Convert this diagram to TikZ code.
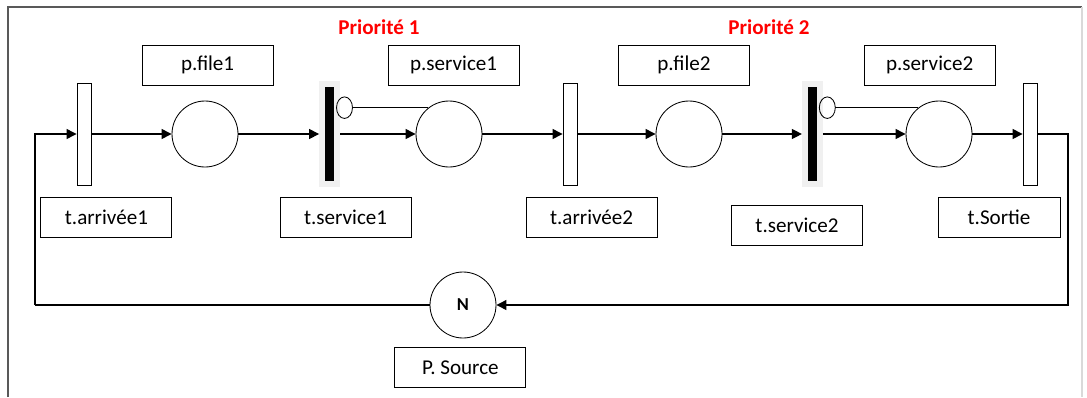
\documentclass[tikz,border=0pt]{standalone}
\usepackage{fontspec}
\setmainfont{Carlito}
\usetikzlibrary{positioning, arrows.meta}

\begin{document}
\begin{tikzpicture}[
    place/.style={draw, circle, minimum size=1.65cm, inner sep=0pt,
                  line width=0.6pt},
    trans/.style={draw, rectangle, minimum width=0.35cm,
                  minimum height=2.55cm, inner sep=0pt, line width=0.6pt},
    prio/.style={fill=black, minimum width=0.225cm, minimum height=2.35cm,
                 inner sep=0pt, outer sep=0.15cm,
                 preaction={draw=black!6, line width=0.3cm}},
    lbl/.style={draw, minimum width=3.275cm, minimum height=1cm,
                inner sep=0pt, line width=0.6pt,
                font=\fontsize{15}{18}\selectfont},
    priolbl/.style={font=\fontsize{15}{18}\selectfont\bfseries, text=red},
    flow/.style={-{Triangle[length=0.25cm,width=0.25cm]}, line width=0.8pt},
    inhib/.style={-{Circle[open, length=0.42cm, width=0.56cm]},
                  line width=0.6pt, shorten >=-0.1cm},
]
\useasboundingbox (0,0) rectangle (27.175,-9.925);

% --- Frame ---
\draw[black!65, line width=0.8pt] (0.2,-9.925) -- (0.2,-0.175) -- (27.05,-0.175);
\draw[black!15, line width=0.8pt] (27.05,-0.175) -- (27.05,-9.925);

% --- Priorities ---
\node[priolbl] (prio1) at (9.475,-0.675) {Priorité 1};
\node[priolbl] (prio2) at (19.225,-0.675) {Priorité 2};

% --- Places and transitions ---
\node[trans] (ta1) at (2.10,-3.35) {};
\node[place] (pf1) at (5.125,-3.35) {};
\node[prio]  (ts1) at (8.24,-3.35) {};
\node[place] (ps1) at (11.225,-3.35) {};
\node[trans] (ta2) at (14.25,-3.35) {};
\node[place] (pf2) at (17.225,-3.35) {};
\node[prio]  (ts2) at (20.31,-3.35) {};
\node[place] (ps2) at (23.475,-3.35) {};
\node[trans] (tso) at (25.75,-3.35) {};
\node[place, font=\bfseries\fontsize{13}{15}\selectfont] (src)
    at (11.575,-7.625) {N};

% --- Labels ---
\node[lbl] (lpf1) at (5.19,-1.625) {p.file1};
\node[lbl] (lps1) at (11.34,-1.625) {p.service1};
\node[lbl] (lpf2) at (17.1,-1.625) {p.file2};
\node[lbl] (lps2) at (23.24,-1.625) {p.service2};
\node[lbl] (lta1) at (2.66,-5.44) {t.arrivée1};
\node[lbl] (lts1) at (8.64,-5.44) {t.service1};
\node[lbl] (lta2) at (14.79,-5.44) {t.arrivée2};
\node[lbl] (lts2) at (19.925,-5.625) {t.service2};
\node[lbl, minimum width=3.05cm] (ltso) at (24.975,-5.44) {t.Sortie};
\node[lbl] (lsrc) at (11.51,-9.19) {P. Source};

% --- Loop corners ---
\coordinate (loopR) at (26.7,-7.625);
\coordinate (loopL) at (0.875,-7.625);

% --- Main flow ---
\draw[flow] (loopL) |- (ta1);
\draw[flow] (ta1) -- (pf1);
\draw[flow] (pf1) -- (ts1);
\draw[flow] (ts1) -- (ps1);
\draw[flow] (ps1) -- (ta2);
\draw[flow] (ta2) -- (pf2);
\draw[flow] (pf2) -- (ts2);
\draw[flow] (ts2) -- (ps2);
\draw[flow] (ps2) -- (tso);
\draw[flow] (tso) -| (loopR) -- (src);
\draw[line width=0.8pt] (src) -- (loopL);

% --- Inhibitor arcs ---
\draw[inhib] (ps1.128) -- (ps1.128 -| ts1.east);
\draw[inhib] (ps2.128) -- (ps2.128 -| ts2.east);
\end{tikzpicture}
\end{document}
